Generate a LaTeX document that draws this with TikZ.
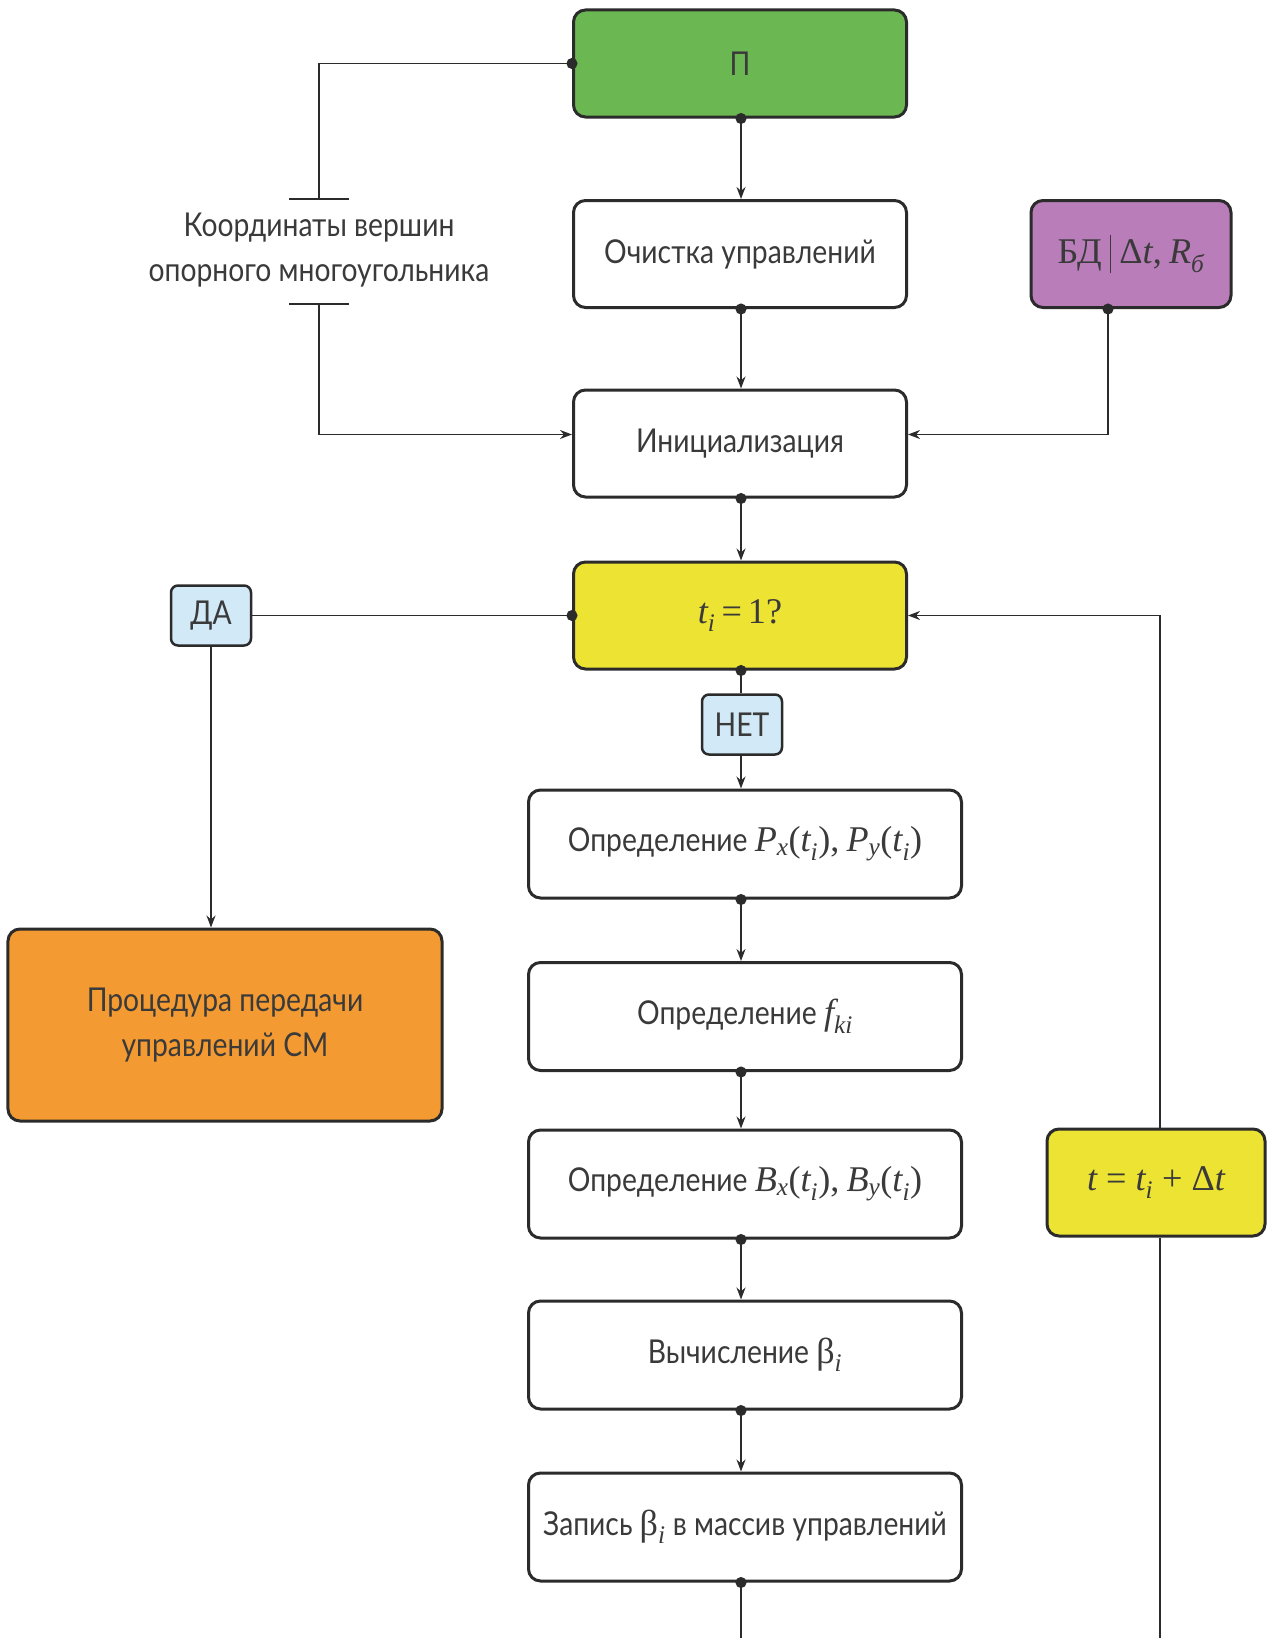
\documentclass[tikz,border=0pt]{standalone}
\usepackage{fontspec}
\setmainfont{Lato}[FakeStretch=0.86]
\newfontfamily\mf{Liberation Serif}[Scale=1.1]
\usetikzlibrary{arrows.meta}
\newcommand{\iv}[1]{{\mf\itshape #1}}
\newcommand{\ivsub}[1]{\textsubscript{\mf\itshape #1}}
\newcommand{\up}[1]{{\mf #1}}
\definecolor{cgreen}{HTML}{6BB852}
\definecolor{cpurple}{HTML}{B97DBA}
\definecolor{cyellow}{HTML}{EDE332}
\definecolor{corange}{HTML}{F39B32}
\definecolor{cblue}{HTML}{D2EAF7}
\definecolor{cline}{HTML}{2B2B2B}
\definecolor{ctext}{HTML}{3A3A3A}
\begin{document}
\begin{tikzpicture}[x=1bp,y=-1bp,
  every node/.style={text=ctext, font=\fontsize{33}{45}\selectfont},
  box/.style={draw=cline, line width=3bp, rounded corners=12bp, fill=white,
    minimum width=333bp, minimum height=107bp, inner sep=0pt, align=center},
  wide/.style={box, minimum width=433bp, minimum height=108bp},
  tag/.style={draw=cline, line width=2.5bp, rounded corners=7bp, fill=cblue,
    minimum width=80bp, minimum height=60bp, inner sep=0pt},
  conn/.style={draw=cline, line width=1.6bp},
  arr/.style={conn, -{Stealth[length=12bp,width=9bp]}},
  dot/.style={shorten <=-5.5bp, {Circle[length=11bp]}-},
  dotarr/.style={conn, shorten <=-5.5bp, {Circle[length=11bp]}-{Stealth[length=12bp,width=9bp]}},
  tick/.style={draw=cline, line width=2bp}]
\useasboundingbox (0,0) rectangle (1277,1638);

% main column
\node[box, fill=cgreen] (pt) at (740,63.5) {П};
\node[box] (clean) at (740,254) {Очистка управлений};
\node[box, minimum width=200bp, fill=cpurple] (bd) at (1131,254)
  {\up{БД}\hspace{8bp}\rule[-10bp]{1.8bp}{38bp}\hspace{8bp}\up{Δ}\iv{t}\up{,} \iv{R}\ivsub{б}};
\node[box] (init) at (740,443.5) {Инициализация};
\node[box, fill=cyellow] (cond) at (740,615.5) {\iv{t}\ivsub{i}\up{\,=\,1?}};
\node[tag] (net) at (742,724.5) {НЕТ};
\node[tag] (da) at (211,615.5) {ДА};
\node[box, minimum width=434bp, minimum height=192bp, fill=corange] (proc) at (225,1025)
  {Процедура передачи\\управлений СМ};
\node[wide] (px) at (745,844)
  {Определение \iv{P}\ivsub{x}\up{(}\iv{t}\ivsub{i}\up{)}\up{,} \iv{P}\ivsub{y}\up{(}\iv{t}\ivsub{i}\up{)}};
\node[wide] (fki) at (745,1016.5) {Определение \iv{f}\ivsub{ki}};
\node[wide] (bx) at (745,1184)
  {Определение \iv{B}\ivsub{x}\up{(}\iv{t}\ivsub{i}\up{)}\up{,} \iv{B}\ivsub{y}\up{(}\iv{t}\ivsub{i}\up{)}};
\node[wide] (beta) at (745,1355) {Вычисление \up{β}\ivsub{i}};
\node[wide] (zap) at (745,1527) {Запись \up{β}\ivsub{i} в массив управлений};
\node[box, minimum width=218bp, fill=cyellow] (step) at (1156,1182.5)
  {\iv{t}\up{ = }\iv{t}\ivsub{i}\up{ + Δ}\iv{t}};

% side label with ticks
\node[align=center] (lbl) at (319,250) {Координаты вершин\\опорного многоугольника};
\coordinate (tka) at (319,199);
\coordinate (tkb) at (319,304);
\coordinate (bot) at (741,1638);
\coordinate (botr) at (1160,1638);

% connectors
\draw[conn, dot] (pt.west) -| (tka);
\draw[tick] ([xshift=-30bp]tka) -- ([xshift=30bp]tka);
\draw[tick] ([xshift=-30bp]tkb) -- ([xshift=30bp]tkb);
\draw[arr] (tkb) |- ([yshift=9bp]init.west);
\draw[dotarr] ([xshift=1bp]pt.south) -- ([xshift=1bp]clean.north);
\draw[dotarr] ([xshift=1bp]clean.south) -- ([xshift=1bp]init.north);
\draw[dotarr] ([xshift=-23bp]bd.south) |- ([yshift=9bp]init.east);
\draw[dotarr] ([xshift=1bp]init.south) -- ([xshift=1bp]cond.north);
\draw[conn, dot] (cond.west) -- (da.east);
\draw[arr] (da.south) -- (da.south |- proc.north);
\draw[conn, dot] ([xshift=1bp]cond.south) -- (net.north -| 741,0);
\draw[arr] (net.south -| 741,0) -- (px.north -| 741,0);
\draw[dotarr] (px.south -| 741,0) -- (fki.north -| 741,0);
\draw[dotarr] (fki.south -| 741,0) -- (bx.north -| 741,0);
\draw[dotarr] (bx.south -| 741,0) -- (beta.north -| 741,0);
\draw[dotarr] (beta.south -| 741,0) -- (zap.north -| 741,0);
\draw[conn, dot] (zap.south -| 741,0) -- (bot);
\draw[conn] (botr) -- (step.south -| botr);
\draw[arr] (step.north -| botr) |- (cond.east);
\end{tikzpicture}
\end{document}
